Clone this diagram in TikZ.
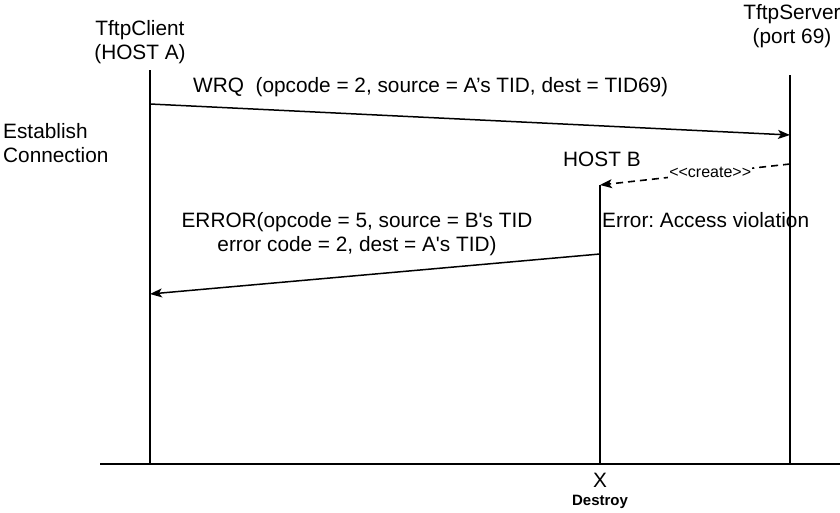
\documentclass[tikz,border=0pt]{standalone}
\usepackage{fontspec}
\setmainfont{Liberation Sans}
\usetikzlibrary{arrows.meta}
\frenchspacing
\begin{document}
\begin{tikzpicture}[x=1pt,y=-1pt,
  lbl/.style={inner sep=0pt,font=\fontsize{20.8}{24}\selectfont},
  life/.style={line width=1.5pt},
  msg/.style={line width=1.5pt,-{Stealth[length=12pt,width=9pt,inset=3pt]}},
  dmsg/.style={line width=1.6pt,dash pattern=on 7pt off 5pt,-{Stealth[length=12pt,width=9pt,inset=3pt]}}]
\useasboundingbox[fill=white] (0,0) rectangle (840,512);
% lifeline ends
\coordinate (a1) at (150,70);
\coordinate (a2) at (150,464);
\coordinate (s1) at (790,75);
\coordinate (s2) at (790,464);
\coordinate (b1) at (600,185);
\coordinate (b2) at (600,464);
\coordinate (g1) at (100,464);
\coordinate (g2) at (840,464);
\draw[life] (a1) -- (a2);
\draw[life] (s1) -- (s2);
\draw[life] (b1) -- (b2);
\draw[life] (g1) -- (g2);
% message points
\coordinate (w1) at (150,104);
\coordinate (w2) at (790,135);
\coordinate (c1) at (790,164);
\coordinate (c2) at (600,185);
\coordinate (e1) at (600,254);
\coordinate (e2) at (150,294);
\draw[msg] (w1) -- (w2);
\draw[dmsg] (c1) -- (c2) node[pos=0.42,fill=white,inner sep=1pt,font=\fontsize{16}{18}\selectfont] (cr) {<\kern0pt<create>\kern0pt>};
\draw[msg] (e1) -- (e2);
% labels
\node[lbl,align=center] (tc) at (140,42) {TftpClient\\(HOST A)};
\node[lbl,align=center] (ts) at (792,26) {TftpServer\\(port 69)};
\node[lbl,anchor=west] (wrq) at (193,87) {WRQ\ \ (opcode = 2, source = A’s TID, dest = TID69)};
\node[lbl,align=left,anchor=west] (est) at (3,143) {Establish\\Connection};
\node[lbl,anchor=west] (hb) at (563,159) {HOST B};
\node[lbl,anchor=west] (av) at (602,220) {Error: Access violation};
\node[lbl,align=center] (er) at (357,234) {ERROR(opcode = 5, source = B\textquotesingle s TID\\error code = 2, dest = A\textquotesingle s TID)};
\node[lbl] (x) at (600,480) {X};
\node[inner sep=0pt,font=\bfseries\fontsize{15}{17}\selectfont] (ds) at (600,502) {Destroy};
\end{tikzpicture}
\end{document}
